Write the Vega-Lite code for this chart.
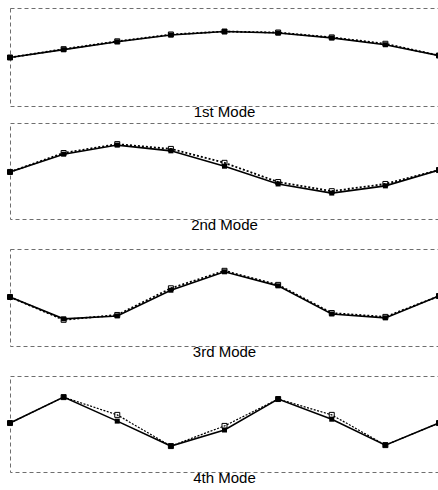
{
  "$schema": "https://vega.github.io/schema/vega-lite/v6.json",
  "padding": {"left": 5, "top": 7, "right": 0, "bottom": 0},
  "background": "white",
  "config": {
    "view": {"stroke": "#6e6e6e", "strokeDash": [4, 3], "strokeWidth": 1},
    "title": {"font": "Liberation Sans", "fontSize": 15, "fontWeight": "normal", "color": "black", "orient": "bottom", "offset": -1, "anchor": "middle"}
  },
  "data": {"values": [
    {"mode": 1, "node": 0, "series": "A", "value": -0.01},
    {"mode": 1, "node": 1, "series": "A", "value": 0.15},
    {"mode": 1, "node": 2, "series": "A", "value": 0.31},
    {"mode": 1, "node": 3, "series": "A", "value": 0.45},
    {"mode": 1, "node": 4, "series": "A", "value": 0.52},
    {"mode": 1, "node": 5, "series": "A", "value": 0.49},
    {"mode": 1, "node": 6, "series": "A", "value": 0.39},
    {"mode": 1, "node": 7, "series": "A", "value": 0.25},
    {"mode": 1, "node": 8, "series": "A", "value": 0.03},
    {"mode": 1, "node": 0, "series": "B", "value": -0.01},
    {"mode": 1, "node": 1, "series": "B", "value": 0.16},
    {"mode": 1, "node": 2, "series": "B", "value": 0.32},
    {"mode": 1, "node": 3, "series": "B", "value": 0.46},
    {"mode": 1, "node": 4, "series": "B", "value": 0.52},
    {"mode": 1, "node": 5, "series": "B", "value": 0.5},
    {"mode": 1, "node": 6, "series": "B", "value": 0.4},
    {"mode": 1, "node": 7, "series": "B", "value": 0.27},
    {"mode": 1, "node": 8, "series": "B", "value": 0.03},
    {"mode": 2, "node": 0, "series": "A", "value": -0.02},
    {"mode": 2, "node": 1, "series": "A", "value": 0.35},
    {"mode": 2, "node": 2, "series": "A", "value": 0.54},
    {"mode": 2, "node": 3, "series": "A", "value": 0.42},
    {"mode": 2, "node": 4, "series": "A", "value": 0.1},
    {"mode": 2, "node": 5, "series": "A", "value": -0.27},
    {"mode": 2, "node": 6, "series": "A", "value": -0.46},
    {"mode": 2, "node": 7, "series": "A", "value": -0.31},
    {"mode": 2, "node": 8, "series": "A", "value": 0.02},
    {"mode": 2, "node": 0, "series": "B", "value": -0.02},
    {"mode": 2, "node": 1, "series": "B", "value": 0.375},
    {"mode": 2, "node": 2, "series": "B", "value": 0.56},
    {"mode": 2, "node": 3, "series": "B", "value": 0.46},
    {"mode": 2, "node": 4, "series": "B", "value": 0.17},
    {"mode": 2, "node": 5, "series": "B", "value": -0.23},
    {"mode": 2, "node": 6, "series": "B", "value": -0.42},
    {"mode": 2, "node": 7, "series": "B", "value": -0.27},
    {"mode": 2, "node": 8, "series": "B", "value": 0.02},
    {"mode": 3, "node": 0, "series": "A", "value": 0.01},
    {"mode": 3, "node": 1, "series": "A", "value": -0.44},
    {"mode": 3, "node": 2, "series": "A", "value": -0.38},
    {"mode": 3, "node": 3, "series": "A", "value": 0.15},
    {"mode": 3, "node": 4, "series": "A", "value": 0.53},
    {"mode": 3, "node": 5, "series": "A", "value": 0.24},
    {"mode": 3, "node": 6, "series": "A", "value": -0.34},
    {"mode": 3, "node": 7, "series": "A", "value": -0.42},
    {"mode": 3, "node": 8, "series": "A", "value": 0.03},
    {"mode": 3, "node": 0, "series": "B", "value": 0.01},
    {"mode": 3, "node": 1, "series": "B", "value": -0.46},
    {"mode": 3, "node": 2, "series": "B", "value": -0.36},
    {"mode": 3, "node": 3, "series": "B", "value": 0.19},
    {"mode": 3, "node": 4, "series": "B", "value": 0.55},
    {"mode": 3, "node": 5, "series": "B", "value": 0.26},
    {"mode": 3, "node": 6, "series": "B", "value": -0.32},
    {"mode": 3, "node": 7, "series": "B", "value": -0.4},
    {"mode": 3, "node": 8, "series": "B", "value": 0.03},
    {"mode": 4, "node": 0, "series": "A", "value": 0.02},
    {"mode": 4, "node": 1, "series": "A", "value": 0.56},
    {"mode": 4, "node": 2, "series": "A", "value": 0.06},
    {"mode": 4, "node": 3, "series": "A", "value": -0.46},
    {"mode": 4, "node": 4, "series": "A", "value": -0.125},
    {"mode": 4, "node": 5, "series": "A", "value": 0.52},
    {"mode": 4, "node": 6, "series": "A", "value": 0.1},
    {"mode": 4, "node": 7, "series": "A", "value": -0.44},
    {"mode": 4, "node": 8, "series": "A", "value": 0.02},
    {"mode": 4, "node": 0, "series": "B", "value": 0.02},
    {"mode": 4, "node": 1, "series": "B", "value": 0.56},
    {"mode": 4, "node": 2, "series": "B", "value": 0.19},
    {"mode": 4, "node": 3, "series": "B", "value": -0.46},
    {"mode": 4, "node": 4, "series": "B", "value": -0.04},
    {"mode": 4, "node": 5, "series": "B", "value": 0.52},
    {"mode": 4, "node": 6, "series": "B", "value": 0.19},
    {"mode": 4, "node": 7, "series": "B", "value": -0.44},
    {"mode": 4, "node": 8, "series": "B", "value": 0.02}
  ]},
  "spacing": 1,
  "vconcat": [
    {
      "width": 429, "height": 98,
      "title": "1st Mode",
      "transform": [{"filter": "datum.mode == 1"}],
      "encoding": {
        "x": {"field": "node", "type": "quantitative", "scale": {"domain": [0, 8], "nice": false, "zero": false}, "axis": null},
        "y": {"field": "value", "type": "quantitative", "scale": {"domain": [-1, 1], "nice": false}, "axis": null}
      },
      "layer": [
        {"transform": [{"filter": "datum.series == 'B'"}], "mark": {"type": "line", "color": "black", "strokeWidth": 1.8, "strokeDash": [2, 2], "point": {"shape": "square", "filled": false, "size": 25, "color": "black", "strokeWidth": 1}}},
        {"transform": [{"filter": "datum.series == 'A'"}], "mark": {"type": "line", "color": "black", "strokeWidth": 1.6, "point": {"shape": "square", "filled": true, "size": 25, "color": "black"}}}
      ]
    },
    {
      "spacing": 14,
      "vconcat": [
        {
          "width": 429, "height": 96,
          "title": "2nd Mode",
          "transform": [{"filter": "datum.mode == 2"}],
          "encoding": {
            "x": {"field": "node", "type": "quantitative", "scale": {"domain": [0, 8], "nice": false, "zero": false}, "axis": null},
            "y": {"field": "value", "type": "quantitative", "scale": {"domain": [-1, 1], "nice": false}, "axis": null}
          },
          "layer": [
            {"transform": [{"filter": "datum.series == 'B'"}], "mark": {"type": "line", "color": "black", "strokeWidth": 1.8, "strokeDash": [2, 2], "point": {"shape": "square", "filled": false, "size": 25, "color": "black", "strokeWidth": 1}}},
            {"transform": [{"filter": "datum.series == 'A'"}], "mark": {"type": "line", "color": "black", "strokeWidth": 1.6, "point": {"shape": "square", "filled": true, "size": 25, "color": "black"}}}
          ]
        },
        {
          "width": 429, "height": 97,
          "title": "3rd Mode",
          "transform": [{"filter": "datum.mode == 3"}],
          "encoding": {
            "x": {"field": "node", "type": "quantitative", "scale": {"domain": [0, 8], "nice": false, "zero": false}, "axis": null},
            "y": {"field": "value", "type": "quantitative", "scale": {"domain": [-1, 1], "nice": false}, "axis": null}
          },
          "layer": [
            {"transform": [{"filter": "datum.series == 'B'"}], "mark": {"type": "line", "color": "black", "strokeWidth": 1.8, "strokeDash": [2, 2], "point": {"shape": "square", "filled": false, "size": 25, "color": "black", "strokeWidth": 1}}},
            {"transform": [{"filter": "datum.series == 'A'"}], "mark": {"type": "line", "color": "black", "strokeWidth": 1.6, "point": {"shape": "square", "filled": true, "size": 25, "color": "black"}}}
          ]
        },
        {
          "width": 429, "height": 96,
          "title": "4th Mode",
          "transform": [{"filter": "datum.mode == 4"}],
          "encoding": {
            "x": {"field": "node", "type": "quantitative", "scale": {"domain": [0, 8], "nice": false, "zero": false}, "axis": null},
            "y": {"field": "value", "type": "quantitative", "scale": {"domain": [-1, 1], "nice": false}, "axis": null}
          },
          "layer": [
            {"transform": [{"filter": "datum.series == 'B'"}], "mark": {"type": "line", "color": "black", "strokeWidth": 1.2, "strokeDash": [2, 1.5], "point": {"shape": "square", "filled": false, "size": 25, "color": "black", "strokeWidth": 1}}},
            {"transform": [{"filter": "datum.series == 'A'"}], "mark": {"type": "line", "color": "black", "strokeWidth": 1.6, "point": {"shape": "square", "filled": true, "size": 25, "color": "black"}}}
          ]
        }
      ]
    }
  ]
}
